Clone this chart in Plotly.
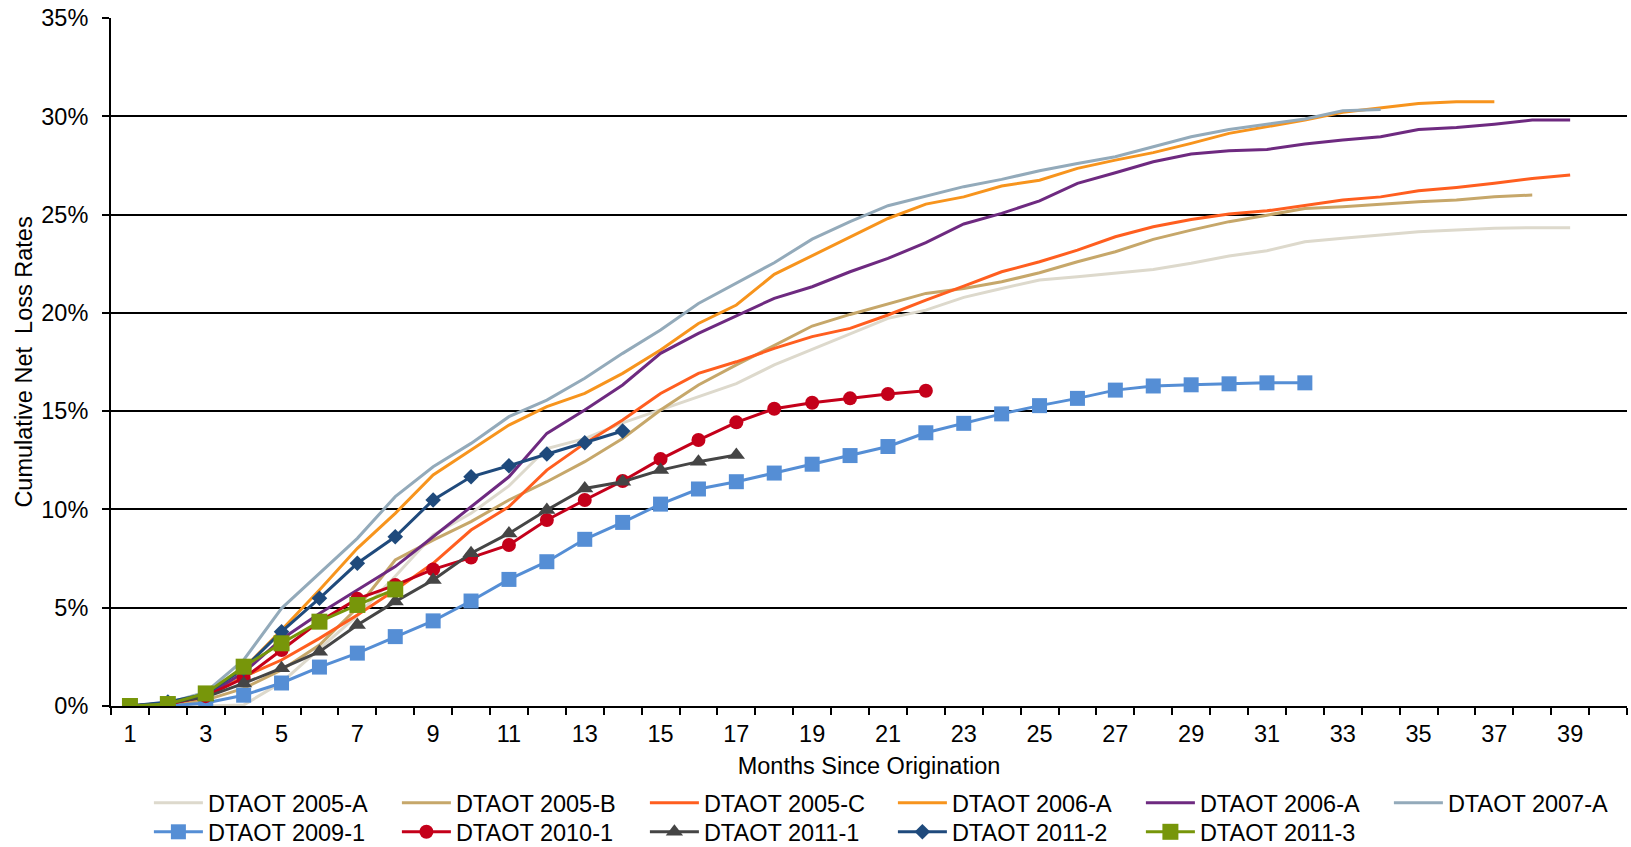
import plotly.graph_objects as go

months = list(range(1, 40))

s_2005A = [0, 0, 0, 0.05, 1.2, 2.9, 4.6, 6.6, 8.7, 9.8, 11.2, 13.1, 13.6, 14.4, 15.06,
           15.7, 16.4, 17.35, 18.14, 18.96, 19.72, 20.14, 20.79, 21.24, 21.67, 21.84, 22.01,
           22.21, 22.52, 22.89, 23.16, 23.62, 23.79, 23.96, 24.13, 24.21, 24.3, 24.33, 24.33]
s_2005B = [0, 0.05, 0.3, 0.9, 1.83, 3.1, 5.0, 7.43, 8.44, 9.38, 10.48, 11.41, 12.43, 13.61,
           15.06, 16.33, 17.35, 18.36, 19.33, 19.92, 20.45, 20.99, 21.24, 21.58, 22.04, 22.6,
           23.11, 23.74, 24.21, 24.64, 24.97, 25.31, 25.4, 25.53, 25.65, 25.74, 25.91, 25.99]
s_2005C = [0, 0.1, 0.45, 1.49, 2.34, 3.44, 4.63, 5.9, 7.26, 8.95, 10.14, 12.0, 13.36, 14.55,
           15.9, 16.92, 17.51, 18.19, 18.79, 19.21, 19.89, 20.65, 21.36, 22.09, 22.6, 23.19,
           23.87, 24.38, 24.75, 25.03, 25.19, 25.48, 25.74, 25.9, 26.21, 26.38, 26.59, 26.84, 27.01]
s_2006A_o = [0, 0.15, 0.6, 1.9, 3.87, 5.9, 8.02, 9.8, 11.75, 13.02, 14.29, 15.23, 15.9, 16.92,
             18.11, 19.46, 20.4, 21.96, 22.9, 23.87, 24.8, 25.53, 25.9, 26.45, 26.75, 27.35,
             27.77, 28.15, 28.62, 29.13, 29.47, 29.81, 30.2, 30.43, 30.65, 30.74, 30.74]
s_2006A_p = [0, 0.1, 0.5, 1.7, 3.4, 4.71, 5.9, 7.09, 8.61, 10.14, 11.66, 13.87, 15.06, 16.33,
             17.94, 18.96, 19.85, 20.74, 21.33, 22.09, 22.77, 23.57, 24.52, 25.06, 25.7, 26.59,
             27.13, 27.69, 28.08, 28.25, 28.31, 28.59, 28.79, 28.96, 29.33, 29.43, 29.6, 29.81, 29.81]
s_2007A = [0, 0.15, 0.7, 2.34, 4.97, 6.75, 8.53, 10.65, 12.17, 13.36, 14.72, 15.56, 16.67,
           17.94, 19.13, 20.48, 21.5, 22.55, 23.75, 24.64, 25.45, 25.94, 26.42, 26.79, 27.23,
           27.6, 27.94, 28.45, 28.96, 29.33, 29.6, 29.86, 30.28, 30.35]
s_2009_1 = [0, 0, 0.15, 0.55, 1.17, 1.98, 2.69, 3.53, 4.33, 5.34, 6.44, 7.34, 8.48, 9.34,
            10.27, 11.04, 11.41, 11.85, 12.3, 12.74, 13.2, 13.9, 14.38, 14.86, 15.28, 15.65,
            16.07, 16.28, 16.34, 16.39, 16.44, 16.44]
s_2010_1 = [0, 0.1, 0.5, 1.41, 2.85, 4.3, 5.45, 6.15, 6.95, 7.55, 8.19, 9.46, 10.48, 11.45,
            12.56, 13.53, 14.43, 15.12, 15.43, 15.65, 15.87, 16.04]
s_2011_1 = [0, 0.15, 0.45, 1.15, 1.92, 2.76, 4.12, 5.31, 6.41, 7.77, 8.78, 9.97, 11.07, 11.41,
            12.0, 12.43, 12.77]
s_2011_2 = [0, 0.2, 0.6, 1.9, 3.78, 5.48, 7.26, 8.61, 10.48, 11.66, 12.22, 12.82, 13.39, 13.99]
s_2011_3 = [0, 0.1, 0.64, 2.0, 3.19, 4.29, 5.14, 5.93]

series_names = ["DTAOT 2005-A", "DTAOT 2005-B", "DTAOT 2005-C", "DTAOT 2006-A", "DTAOT 2006-A",
                "DTAOT 2007-A", "DTAOT 2009-1", "DTAOT 2010-1", "DTAOT 2011-1", "DTAOT 2011-2",
                "DTAOT 2011-3"]
series_values = [s_2005A, s_2005B, s_2005C, s_2006A_o, s_2006A_p, s_2007A, s_2009_1, s_2010_1,
                 s_2011_1, s_2011_2, s_2011_3]
colors = ["#DDD9CC", "#C6A76A", "#FF5E1F", "#F7941D", "#6E2A80", "#93AABA", "#558ED5",
          "#C4001A", "#454545", "#1F4A7C", "#77960A"]
symbols = [None, None, None, None, None, None, "square", "circle", "triangle-up", "diamond", "square"]
msizes = [0, 0, 0, 0, 0, 0, 15, 14, 15, 12, 16]
legend_rows = ["legend"] * 6 + ["legend2"] * 5

y_ticks = [0, 5, 10, 15, 20, 25, 30, 35]
x_ticks = list(range(1, 40, 2))

FONT = "Liberation Sans, Arial, sans-serif"
FS = 23.5

fig = go.Figure()
for name, vals, col, sym, ms, lg in zip(series_names, series_values, colors, symbols, msizes,
                                        legend_rows):
    kw = dict(x=months[:len(vals)], y=vals, name=name, legend=lg,
              line=dict(color=col, width=3))
    if sym:
        kw["mode"] = "lines+markers"
        kw["marker"] = dict(symbol=sym, size=ms, color=col)
    else:
        kw["mode"] = "lines"
    fig.add_trace(go.Scatter(**kw))

leg_common = dict(orientation="h", x=0.025, xanchor="left", yanchor="top",
                  font=dict(size=FS, family=FONT, color="black"),
                  itemwidth=49, entrywidth=184, entrywidthmode="pixels",
                  bgcolor="rgba(0,0,0,0)")

fig.update_layout(
    width=1631, height=847,
    margin=dict(l=111, r=4, t=18, b=141, autoexpand=False),
    paper_bgcolor="white", plot_bgcolor="white",
    font=dict(family=FONT, size=FS, color="black"),
    showlegend=True,
    legend=dict(y=-0.109, **leg_common),
    legend2=dict(y=-0.1512, **leg_common),
    xaxis=dict(range=[0.5, 40.5], tickvals=x_ticks, ticktext=[str(v) for v in x_ticks],
               ticks="", showgrid=False, zeroline=False, showline=True,
               linecolor="black", linewidth=2, ticklabelstandoff=6,
               tickfont=dict(size=FS),
               minor=dict(tick0=0.5, dtick=1, ticks="outside", ticklen=7, tickwidth=1.5,
                          tickcolor="black", showgrid=False),
               title=dict(text="Months Since Origination", font=dict(size=FS), standoff=11)),
    yaxis=dict(range=[0, 35], tickvals=y_ticks, ticktext=[f"{v}%" for v in y_ticks],
               ticks="outside", ticklen=7, tickwidth=2, tickcolor="black",
               showgrid=True, gridcolor="black", gridwidth=2, zeroline=False,
               showline=True, linecolor="black", linewidth=2,
               ticklabelstandoff=9, tickfont=dict(size=FS),
               title=dict(text="Cumulative Net  Loss Rates", font=dict(size=FS), standoff=2)),
)

fig.write_html("out.html")
